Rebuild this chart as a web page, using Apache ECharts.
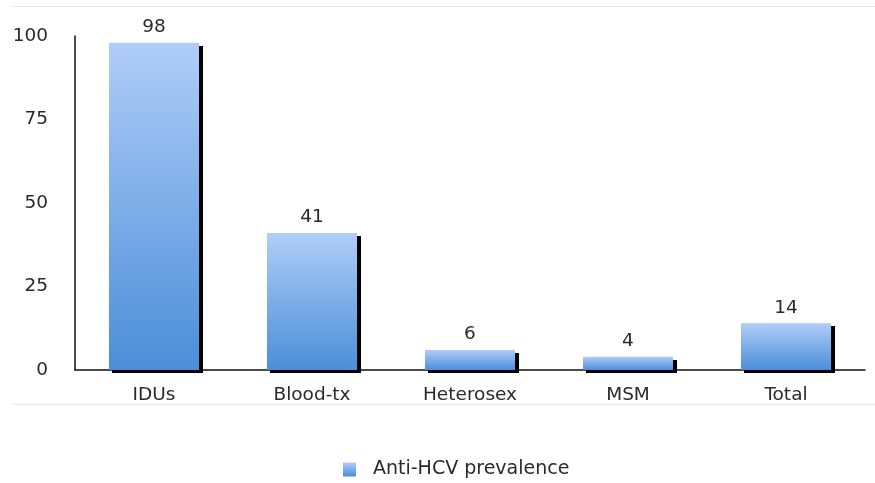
<!DOCTYPE html>
<html><head><meta charset="utf-8">
<script src="https://cdn.jsdelivr.net/npm/echarts@6/dist/echarts.min.js"></script>
<style>html,body{margin:0;padding:0;background:#fff}#c{width:875px;height:483px}</style>
</head><body><div id="c"></div>
<script>
const categories = ['IDUs', 'Blood-tx', 'Heterosex', 'MSM', 'Total'];
const prevalence = [98, 41, 6, 4, 14];
const yTicks = [0, 25, 50, 75, 100];
const seriesName = 'Anti-HCV prevalence';

const chart = echarts.init(document.getElementById('c'));
const font = 'DejaVu Sans, Verdana, sans-serif';
const fs = 18.5;
const txt = '#2a2a2a';
const grad = new echarts.graphic.LinearGradient(0, 0, 0, 1, [
  {offset: 0, color: '#b0cdf8'},
  {offset: 1, color: '#4b8ed8'}
]);
chart.setOption({
  animation: false,
  textStyle: {fontFamily: font},
  grid: {left: 75, right: 10, top: 36, bottom: 113},
  graphic: [
    {type: 'line', shape: {x1: 13, y1: 6.5, x2: 875, y2: 6.5}, style: {stroke: '#e6e6e6', lineWidth: 1}},
    {type: 'line', shape: {x1: 13, y1: 404.5, x2: 875, y2: 404.5}, style: {stroke: '#e6e6e6', lineWidth: 1}}
  ],
  legend: {
    top: 460, left: 343, padding: 0,
    itemWidth: 13, itemHeight: 14, itemGap: 10,
    icon: 'rect',
    textStyle: {fontSize: 19, color: txt, fontFamily: font, padding: [0, 0, 0, 12]},
    data: [seriesName]
  },
  xAxis: {
    type: 'category', data: categories,
    axisLine: {lineStyle: {color: '#111', width: 1.5}},
    axisTick: {show: false},
    axisLabel: {fontSize: fs, color: txt, margin: 16, fontFamily: font}
  },
  yAxis: {
    type: 'value', min: 0, max: 100, interval: 25,
    axisLine: {show: true, lineStyle: {color: '#111', width: 1.5}},
    axisTick: {show: false},
    splitLine: {show: false},
    axisLabel: {fontSize: fs, color: txt, margin: 27, fontFamily: font,
      formatter: v => yTicks.includes(v) ? String(v) : ''}
  },
  series: [{
    name: seriesName, type: 'bar', data: prevalence,
    barWidth: '57%',
    itemStyle: {color: grad, shadowColor: 'rgba(0,0,0,1)', shadowBlur: 0.5, shadowOffsetX: 3.5, shadowOffsetY: 3},
    label: {show: true, position: 'top', distance: 6, fontSize: fs, color: txt, fontFamily: font}
  }]
});
</script></body></html>
